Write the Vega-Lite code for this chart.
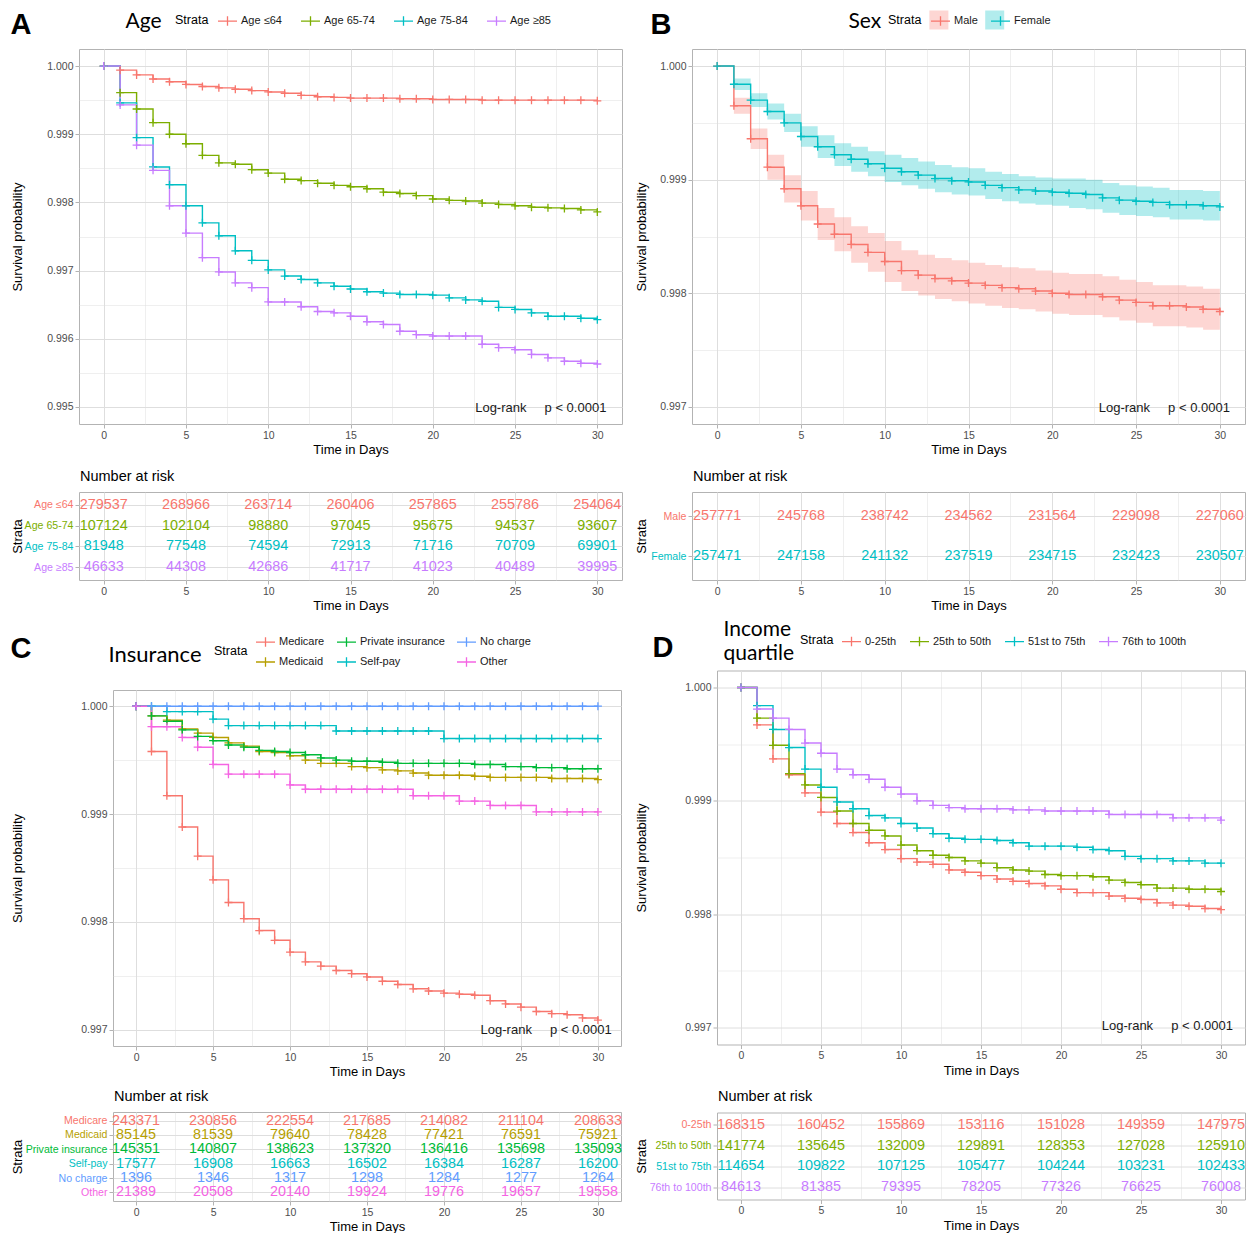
{
"$schema": "https://vega.github.io/schema/vega-lite/v6.json",
"background": "white",
"padding": {"left": 8, "top": 9, "right": 0, "bottom": 0},
"spacing": 10,
"resolve": {"scale": {"color": "independent", "fill": "independent"}, "legend": {"color": "independent", "fill": "independent"}},
"config": {
  "font": "Liberation Sans",
  "view": {"stroke": "#B3B3B3", "strokeWidth": 1},
  "axis": {"domain": false, "gridColor": "#DEDEDE", "tickColor": "#B3B3B3", "tickSize": 4, "tickWidth": 1, "labelColor": "#4D4D4D", "labelFontSize": 10.5, "labelFont": "Liberation Sans", "labelPadding": 2, "titleFont": "Liberation Sans", "titleFontWeight": "normal", "titleColor": "#000000", "titleFontSize": 13},
  "legend": {"labelFont": "Liberation Sans", "titleFont": "Liberation Sans", "padding": 0},
  "title": {"font": "Liberation Sans"}
},
"datasets": {
"ageKM": [
{"g":"Age ≤64","t":0,"s":1},{"g":"Age ≤64","t":1,"s":0.99994},{"g":"Age ≤64","t":2,"s":0.99987},{"g":"Age ≤64","t":3,"s":0.99981},{"g":"Age ≤64","t":4,"s":0.99977},{"g":"Age ≤64","t":5,"s":0.99973},{"g":"Age ≤64","t":6,"s":0.9997},{"g":"Age ≤64","t":7,"s":0.99968},{"g":"Age ≤64","t":8,"s":0.99966},{"g":"Age ≤64","t":9,"s":0.99964},{"g":"Age ≤64","t":10,"s":0.99962},{"g":"Age ≤64","t":11,"s":0.9996},{"g":"Age ≤64","t":12,"s":0.99957},{"g":"Age ≤64","t":13,"s":0.99955},{"g":"Age ≤64","t":14,"s":0.99954},{"g":"Age ≤64","t":15,"s":0.99953},{"g":"Age ≤64","t":16,"s":0.99953},{"g":"Age ≤64","t":17,"s":0.99953},{"g":"Age ≤64","t":18,"s":0.99952},{"g":"Age ≤64","t":19,"s":0.99952},{"g":"Age ≤64","t":20,"s":0.99951},{"g":"Age ≤64","t":21,"s":0.99951},{"g":"Age ≤64","t":22,"s":0.99951},{"g":"Age ≤64","t":23,"s":0.9995},{"g":"Age ≤64","t":24,"s":0.9995},{"g":"Age ≤64","t":25,"s":0.9995},{"g":"Age ≤64","t":26,"s":0.9995},{"g":"Age ≤64","t":27,"s":0.9995},{"g":"Age ≤64","t":28,"s":0.9995},{"g":"Age ≤64","t":29,"s":0.9995},{"g":"Age ≤64","t":30,"s":0.99949},
{"g":"Age 65-74","t":0,"s":1},{"g":"Age 65-74","t":1,"s":0.99961},{"g":"Age 65-74","t":2,"s":0.99937},{"g":"Age 65-74","t":3,"s":0.99917},{"g":"Age 65-74","t":4,"s":0.999},{"g":"Age 65-74","t":5,"s":0.99886},{"g":"Age 65-74","t":6,"s":0.99869},{"g":"Age 65-74","t":7,"s":0.99858},{"g":"Age 65-74","t":8,"s":0.99856},{"g":"Age 65-74","t":9,"s":0.99848},{"g":"Age 65-74","t":10,"s":0.99843},{"g":"Age 65-74","t":11,"s":0.99834},{"g":"Age 65-74","t":12,"s":0.99832},{"g":"Age 65-74","t":13,"s":0.99828},{"g":"Age 65-74","t":14,"s":0.99825},{"g":"Age 65-74","t":15,"s":0.99823},{"g":"Age 65-74","t":16,"s":0.9982},{"g":"Age 65-74","t":17,"s":0.99815},{"g":"Age 65-74","t":18,"s":0.99813},{"g":"Age 65-74","t":19,"s":0.9981},{"g":"Age 65-74","t":20,"s":0.99805},{"g":"Age 65-74","t":21,"s":0.99803},{"g":"Age 65-74","t":22,"s":0.99802},{"g":"Age 65-74","t":23,"s":0.99799},{"g":"Age 65-74","t":24,"s":0.99797},{"g":"Age 65-74","t":25,"s":0.99795},{"g":"Age 65-74","t":26,"s":0.99793},{"g":"Age 65-74","t":27,"s":0.99792},{"g":"Age 65-74","t":28,"s":0.99791},{"g":"Age 65-74","t":29,"s":0.99789},{"g":"Age 65-74","t":30,"s":0.99786},
{"g":"Age 75-84","t":0,"s":1},{"g":"Age 75-84","t":1,"s":0.99946},{"g":"Age 75-84","t":2,"s":0.99895},{"g":"Age 75-84","t":3,"s":0.99852},{"g":"Age 75-84","t":4,"s":0.99826},{"g":"Age 75-84","t":5,"s":0.99795},{"g":"Age 75-84","t":6,"s":0.9977},{"g":"Age 75-84","t":7,"s":0.99751},{"g":"Age 75-84","t":8,"s":0.99729},{"g":"Age 75-84","t":9,"s":0.99715},{"g":"Age 75-84","t":10,"s":0.99701},{"g":"Age 75-84","t":11,"s":0.99692},{"g":"Age 75-84","t":12,"s":0.99687},{"g":"Age 75-84","t":13,"s":0.99682},{"g":"Age 75-84","t":14,"s":0.99677},{"g":"Age 75-84","t":15,"s":0.99673},{"g":"Age 75-84","t":16,"s":0.99669},{"g":"Age 75-84","t":17,"s":0.99667},{"g":"Age 75-84","t":18,"s":0.99665},{"g":"Age 75-84","t":19,"s":0.99665},{"g":"Age 75-84","t":20,"s":0.99664},{"g":"Age 75-84","t":21,"s":0.9966},{"g":"Age 75-84","t":22,"s":0.99657},{"g":"Age 75-84","t":23,"s":0.99655},{"g":"Age 75-84","t":24,"s":0.99646},{"g":"Age 75-84","t":25,"s":0.99643},{"g":"Age 75-84","t":26,"s":0.99638},{"g":"Age 75-84","t":27,"s":0.99633},{"g":"Age 75-84","t":28,"s":0.99633},{"g":"Age 75-84","t":29,"s":0.9963},{"g":"Age 75-84","t":30,"s":0.99628},
{"g":"Age ≥85","t":0,"s":1},{"g":"Age ≥85","t":1,"s":0.99943},{"g":"Age ≥85","t":2,"s":0.99884},{"g":"Age ≥85","t":3,"s":0.99847},{"g":"Age ≥85","t":4,"s":0.99795},{"g":"Age ≥85","t":5,"s":0.99755},{"g":"Age ≥85","t":6,"s":0.99719},{"g":"Age ≥85","t":7,"s":0.99698},{"g":"Age ≥85","t":8,"s":0.99682},{"g":"Age ≥85","t":9,"s":0.99675},{"g":"Age ≥85","t":10,"s":0.99654},{"g":"Age ≥85","t":11,"s":0.99654},{"g":"Age ≥85","t":12,"s":0.99647},{"g":"Age ≥85","t":13,"s":0.9964},{"g":"Age ≥85","t":14,"s":0.99638},{"g":"Age ≥85","t":15,"s":0.99633},{"g":"Age ≥85","t":16,"s":0.99625},{"g":"Age ≥85","t":17,"s":0.99621},{"g":"Age ≥85","t":18,"s":0.99611},{"g":"Age ≥85","t":19,"s":0.99606},{"g":"Age ≥85","t":20,"s":0.99604},{"g":"Age ≥85","t":21,"s":0.99604},{"g":"Age ≥85","t":22,"s":0.99604},{"g":"Age ≥85","t":23,"s":0.99592},{"g":"Age ≥85","t":24,"s":0.99587},{"g":"Age ≥85","t":25,"s":0.99584},{"g":"Age ≥85","t":26,"s":0.99577},{"g":"Age ≥85","t":27,"s":0.99572},{"g":"Age ≥85","t":28,"s":0.99567},{"g":"Age ≥85","t":29,"s":0.99564},{"g":"Age ≥85","t":30,"s":0.99563}
],
"sexKM": [
{"g":"Male","t":0,"s":1,"lo":1,"hi":1},{"g":"Male","t":1,"s":0.99965,"lo":0.99958,"hi":0.99972},{"g":"Male","t":2,"s":0.99936,"lo":0.99927,"hi":0.99945},{"g":"Male","t":3,"s":0.99911,"lo":0.999,"hi":0.99922},{"g":"Male","t":4,"s":0.99892,"lo":0.9988,"hi":0.99904},{"g":"Male","t":5,"s":0.99877,"lo":0.99864,"hi":0.9989},{"g":"Male","t":6,"s":0.99861,"lo":0.99847,"hi":0.99875},{"g":"Male","t":7,"s":0.99852,"lo":0.99837,"hi":0.99867},{"g":"Male","t":8,"s":0.99843,"lo":0.99827,"hi":0.99859},{"g":"Male","t":9,"s":0.99836,"lo":0.99819,"hi":0.99853},{"g":"Male","t":10,"s":0.99828,"lo":0.9981,"hi":0.99846},{"g":"Male","t":11,"s":0.9982,"lo":0.99802,"hi":0.99838},{"g":"Male","t":12,"s":0.99816,"lo":0.99798,"hi":0.99834},{"g":"Male","t":13,"s":0.99813,"lo":0.99795,"hi":0.99831},{"g":"Male","t":14,"s":0.99811,"lo":0.99793,"hi":0.99829},{"g":"Male","t":15,"s":0.99809,"lo":0.99791,"hi":0.99827},{"g":"Male","t":16,"s":0.99807,"lo":0.99789,"hi":0.99825},{"g":"Male","t":17,"s":0.99805,"lo":0.99787,"hi":0.99823},{"g":"Male","t":18,"s":0.99804,"lo":0.99786,"hi":0.99822},{"g":"Male","t":19,"s":0.99802,"lo":0.99784,"hi":0.9982},{"g":"Male","t":20,"s":0.998,"lo":0.99782,"hi":0.99818},{"g":"Male","t":21,"s":0.99799,"lo":0.99781,"hi":0.99817},{"g":"Male","t":22,"s":0.99799,"lo":0.99781,"hi":0.99817},{"g":"Male","t":23,"s":0.99797,"lo":0.99779,"hi":0.99815},{"g":"Male","t":24,"s":0.99794,"lo":0.99776,"hi":0.99812},{"g":"Male","t":25,"s":0.99792,"lo":0.99774,"hi":0.9981},{"g":"Male","t":26,"s":0.99789,"lo":0.99771,"hi":0.99807},{"g":"Male","t":27,"s":0.99789,"lo":0.99771,"hi":0.99807},{"g":"Male","t":28,"s":0.99788,"lo":0.9977,"hi":0.99806},{"g":"Male","t":29,"s":0.99786,"lo":0.99768,"hi":0.99804},{"g":"Male","t":30,"s":0.99784,"lo":0.99766,"hi":0.99802},
{"g":"Female","t":0,"s":1,"lo":1,"hi":1},{"g":"Female","t":1,"s":0.99984,"lo":0.99979,"hi":0.99989},{"g":"Female","t":2,"s":0.9997,"lo":0.99964,"hi":0.99976},{"g":"Female","t":3,"s":0.9996,"lo":0.99953,"hi":0.99967},{"g":"Female","t":4,"s":0.9995,"lo":0.99942,"hi":0.99958},{"g":"Female","t":5,"s":0.99938,"lo":0.99929,"hi":0.99947},{"g":"Female","t":6,"s":0.99929,"lo":0.99919,"hi":0.99939},{"g":"Female","t":7,"s":0.99922,"lo":0.99912,"hi":0.99932},{"g":"Female","t":8,"s":0.99918,"lo":0.99907,"hi":0.99929},{"g":"Female","t":9,"s":0.99914,"lo":0.99903,"hi":0.99925},{"g":"Female","t":10,"s":0.9991,"lo":0.99898,"hi":0.99922},{"g":"Female","t":11,"s":0.99907,"lo":0.99895,"hi":0.99919},{"g":"Female","t":12,"s":0.99904,"lo":0.99892,"hi":0.99916},{"g":"Female","t":13,"s":0.99901,"lo":0.99889,"hi":0.99913},{"g":"Female","t":14,"s":0.99899,"lo":0.99887,"hi":0.99911},{"g":"Female","t":15,"s":0.99898,"lo":0.99886,"hi":0.9991},{"g":"Female","t":16,"s":0.99895,"lo":0.99883,"hi":0.99907},{"g":"Female","t":17,"s":0.99893,"lo":0.99881,"hi":0.99905},{"g":"Female","t":18,"s":0.99891,"lo":0.99879,"hi":0.99903},{"g":"Female","t":19,"s":0.9989,"lo":0.99878,"hi":0.99902},{"g":"Female","t":20,"s":0.99889,"lo":0.99877,"hi":0.99901},{"g":"Female","t":21,"s":0.99888,"lo":0.99875,"hi":0.99901},{"g":"Female","t":22,"s":0.99887,"lo":0.99874,"hi":0.999},{"g":"Female","t":23,"s":0.99884,"lo":0.99871,"hi":0.99897},{"g":"Female","t":24,"s":0.99882,"lo":0.99869,"hi":0.99895},{"g":"Female","t":25,"s":0.99881,"lo":0.99868,"hi":0.99894},{"g":"Female","t":26,"s":0.9988,"lo":0.99867,"hi":0.99893},{"g":"Female","t":27,"s":0.99878,"lo":0.99865,"hi":0.99891},{"g":"Female","t":28,"s":0.99878,"lo":0.99865,"hi":0.99891},{"g":"Female","t":29,"s":0.99877,"lo":0.99864,"hi":0.9989},{"g":"Female","t":30,"s":0.99876,"lo":0.99863,"hi":0.99889}
],
"insKM": [
{"g":"Medicare","t":0,"s":1},{"g":"Medicare","t":1,"s":0.99958},{"g":"Medicare","t":2,"s":0.99917},{"g":"Medicare","t":3,"s":0.99888},{"g":"Medicare","t":4,"s":0.99861},{"g":"Medicare","t":5,"s":0.99839},{"g":"Medicare","t":6,"s":0.99818},{"g":"Medicare","t":7,"s":0.99803},{"g":"Medicare","t":8,"s":0.99792},{"g":"Medicare","t":9,"s":0.99783},{"g":"Medicare","t":10,"s":0.99772},{"g":"Medicare","t":11,"s":0.99763},{"g":"Medicare","t":12,"s":0.99759},{"g":"Medicare","t":13,"s":0.99755},{"g":"Medicare","t":14,"s":0.99752},{"g":"Medicare","t":15,"s":0.99749},{"g":"Medicare","t":16,"s":0.99745},{"g":"Medicare","t":17,"s":0.99742},{"g":"Medicare","t":18,"s":0.99738},{"g":"Medicare","t":19,"s":0.99736},{"g":"Medicare","t":20,"s":0.99734},{"g":"Medicare","t":21,"s":0.99733},{"g":"Medicare","t":22,"s":0.99732},{"g":"Medicare","t":23,"s":0.99727},{"g":"Medicare","t":24,"s":0.99724},{"g":"Medicare","t":25,"s":0.99721},{"g":"Medicare","t":26,"s":0.99717},{"g":"Medicare","t":27,"s":0.99715},{"g":"Medicare","t":28,"s":0.99714},{"g":"Medicare","t":29,"s":0.99711},{"g":"Medicare","t":30,"s":0.99709},
{"g":"Medicaid","t":0,"s":1},{"g":"Medicaid","t":1,"s":0.99991},{"g":"Medicaid","t":2,"s":0.99987},{"g":"Medicaid","t":3,"s":0.99979},{"g":"Medicaid","t":4,"s":0.99975},{"g":"Medicaid","t":5,"s":0.99971},{"g":"Medicaid","t":6,"s":0.99966},{"g":"Medicaid","t":7,"s":0.99963},{"g":"Medicaid","t":8,"s":0.99958},{"g":"Medicaid","t":9,"s":0.99957},{"g":"Medicaid","t":10,"s":0.99954},{"g":"Medicaid","t":11,"s":0.9995},{"g":"Medicaid","t":12,"s":0.99947},{"g":"Medicaid","t":13,"s":0.99947},{"g":"Medicaid","t":14,"s":0.99944},{"g":"Medicaid","t":15,"s":0.99943},{"g":"Medicaid","t":16,"s":0.99941},{"g":"Medicaid","t":17,"s":0.9994},{"g":"Medicaid","t":18,"s":0.99938},{"g":"Medicaid","t":19,"s":0.99936},{"g":"Medicaid","t":20,"s":0.99936},{"g":"Medicaid","t":21,"s":0.99936},{"g":"Medicaid","t":22,"s":0.99935},{"g":"Medicaid","t":23,"s":0.99934},{"g":"Medicaid","t":24,"s":0.99934},{"g":"Medicaid","t":25,"s":0.99934},{"g":"Medicaid","t":26,"s":0.99934},{"g":"Medicaid","t":27,"s":0.99933},{"g":"Medicaid","t":28,"s":0.99933},{"g":"Medicaid","t":29,"s":0.99933},{"g":"Medicaid","t":30,"s":0.99932},
{"g":"Private insurance","t":0,"s":1},{"g":"Private insurance","t":1,"s":0.99991},{"g":"Private insurance","t":2,"s":0.99986},{"g":"Private insurance","t":3,"s":0.99978},{"g":"Private insurance","t":4,"s":0.99972},{"g":"Private insurance","t":5,"s":0.99968},{"g":"Private insurance","t":6,"s":0.99964},{"g":"Private insurance","t":7,"s":0.99962},{"g":"Private insurance","t":8,"s":0.99959},{"g":"Private insurance","t":9,"s":0.99958},{"g":"Private insurance","t":10,"s":0.99957},{"g":"Private insurance","t":11,"s":0.99955},{"g":"Private insurance","t":12,"s":0.99952},{"g":"Private insurance","t":13,"s":0.9995},{"g":"Private insurance","t":14,"s":0.99949},{"g":"Private insurance","t":15,"s":0.99949},{"g":"Private insurance","t":16,"s":0.99948},{"g":"Private insurance","t":17,"s":0.99947},{"g":"Private insurance","t":18,"s":0.99947},{"g":"Private insurance","t":19,"s":0.99947},{"g":"Private insurance","t":20,"s":0.99947},{"g":"Private insurance","t":21,"s":0.99947},{"g":"Private insurance","t":22,"s":0.99946},{"g":"Private insurance","t":23,"s":0.99946},{"g":"Private insurance","t":24,"s":0.99944},{"g":"Private insurance","t":25,"s":0.99944},{"g":"Private insurance","t":26,"s":0.99943},{"g":"Private insurance","t":27,"s":0.99943},{"g":"Private insurance","t":28,"s":0.99942},{"g":"Private insurance","t":29,"s":0.99942},{"g":"Private insurance","t":30,"s":0.99942},
{"g":"Self-pay","t":0,"s":1},{"g":"Self-pay","t":1,"s":1},{"g":"Self-pay","t":2,"s":0.99995},{"g":"Self-pay","t":3,"s":0.99995},{"g":"Self-pay","t":4,"s":0.99995},{"g":"Self-pay","t":5,"s":0.99988},{"g":"Self-pay","t":6,"s":0.99982},{"g":"Self-pay","t":7,"s":0.99982},{"g":"Self-pay","t":8,"s":0.99982},{"g":"Self-pay","t":9,"s":0.99982},{"g":"Self-pay","t":10,"s":0.99982},{"g":"Self-pay","t":11,"s":0.99982},{"g":"Self-pay","t":12,"s":0.99982},{"g":"Self-pay","t":13,"s":0.99977},{"g":"Self-pay","t":14,"s":0.99977},{"g":"Self-pay","t":15,"s":0.99977},{"g":"Self-pay","t":16,"s":0.99977},{"g":"Self-pay","t":17,"s":0.99977},{"g":"Self-pay","t":18,"s":0.99977},{"g":"Self-pay","t":19,"s":0.99977},{"g":"Self-pay","t":20,"s":0.9997},{"g":"Self-pay","t":21,"s":0.9997},{"g":"Self-pay","t":22,"s":0.9997},{"g":"Self-pay","t":23,"s":0.9997},{"g":"Self-pay","t":24,"s":0.9997},{"g":"Self-pay","t":25,"s":0.9997},{"g":"Self-pay","t":26,"s":0.9997},{"g":"Self-pay","t":27,"s":0.9997},{"g":"Self-pay","t":28,"s":0.9997},{"g":"Self-pay","t":29,"s":0.9997},{"g":"Self-pay","t":30,"s":0.9997},
{"g":"No charge","t":0,"s":1},{"g":"No charge","t":1,"s":1},{"g":"No charge","t":2,"s":1},{"g":"No charge","t":3,"s":1},{"g":"No charge","t":4,"s":1},{"g":"No charge","t":5,"s":1},{"g":"No charge","t":6,"s":1},{"g":"No charge","t":7,"s":1},{"g":"No charge","t":8,"s":1},{"g":"No charge","t":9,"s":1},{"g":"No charge","t":10,"s":1},{"g":"No charge","t":11,"s":1},{"g":"No charge","t":12,"s":1},{"g":"No charge","t":13,"s":1},{"g":"No charge","t":14,"s":1},{"g":"No charge","t":15,"s":1},{"g":"No charge","t":16,"s":1},{"g":"No charge","t":17,"s":1},{"g":"No charge","t":18,"s":1},{"g":"No charge","t":19,"s":1},{"g":"No charge","t":20,"s":1},{"g":"No charge","t":21,"s":1},{"g":"No charge","t":22,"s":1},{"g":"No charge","t":23,"s":1},{"g":"No charge","t":24,"s":1},{"g":"No charge","t":25,"s":1},{"g":"No charge","t":26,"s":1},{"g":"No charge","t":27,"s":1},{"g":"No charge","t":28,"s":1},{"g":"No charge","t":29,"s":1},{"g":"No charge","t":30,"s":1},
{"g":"Other","t":0,"s":1},{"g":"Other","t":1,"s":0.99981},{"g":"Other","t":2,"s":0.99981},{"g":"Other","t":3,"s":0.99971},{"g":"Other","t":4,"s":0.99962},{"g":"Other","t":5,"s":0.99946},{"g":"Other","t":6,"s":0.99937},{"g":"Other","t":7,"s":0.99937},{"g":"Other","t":8,"s":0.99937},{"g":"Other","t":9,"s":0.99937},{"g":"Other","t":10,"s":0.99927},{"g":"Other","t":11,"s":0.99923},{"g":"Other","t":12,"s":0.99923},{"g":"Other","t":13,"s":0.99923},{"g":"Other","t":14,"s":0.99923},{"g":"Other","t":15,"s":0.99923},{"g":"Other","t":16,"s":0.99923},{"g":"Other","t":17,"s":0.99923},{"g":"Other","t":18,"s":0.99917},{"g":"Other","t":19,"s":0.99917},{"g":"Other","t":20,"s":0.99917},{"g":"Other","t":21,"s":0.99912},{"g":"Other","t":22,"s":0.99912},{"g":"Other","t":23,"s":0.99908},{"g":"Other","t":24,"s":0.99908},{"g":"Other","t":25,"s":0.99908},{"g":"Other","t":26,"s":0.99902},{"g":"Other","t":27,"s":0.99902},{"g":"Other","t":28,"s":0.99902},{"g":"Other","t":29,"s":0.99902},{"g":"Other","t":30,"s":0.99902}
],
"incKM": [
{"g":"0-25th","t":0,"s":1},{"g":"0-25th","t":1,"s":0.99967},{"g":"0-25th","t":2,"s":0.99937},{"g":"0-25th","t":3,"s":0.99923},{"g":"0-25th","t":4,"s":0.99907},{"g":"0-25th","t":5,"s":0.9989},{"g":"0-25th","t":6,"s":0.9988},{"g":"0-25th","t":7,"s":0.99872},{"g":"0-25th","t":8,"s":0.99863},{"g":"0-25th","t":9,"s":0.99857},{"g":"0-25th","t":10,"s":0.99849},{"g":"0-25th","t":11,"s":0.99846},{"g":"0-25th","t":12,"s":0.99844},{"g":"0-25th","t":13,"s":0.99839},{"g":"0-25th","t":14,"s":0.99837},{"g":"0-25th","t":15,"s":0.99834},{"g":"0-25th","t":16,"s":0.99831},{"g":"0-25th","t":17,"s":0.99829},{"g":"0-25th","t":18,"s":0.99827},{"g":"0-25th","t":19,"s":0.99825},{"g":"0-25th","t":20,"s":0.99822},{"g":"0-25th","t":21,"s":0.99819},{"g":"0-25th","t":22,"s":0.99819},{"g":"0-25th","t":23,"s":0.99816},{"g":"0-25th","t":24,"s":0.99814},{"g":"0-25th","t":25,"s":0.99813},{"g":"0-25th","t":26,"s":0.9981},{"g":"0-25th","t":27,"s":0.99808},{"g":"0-25th","t":28,"s":0.99807},{"g":"0-25th","t":29,"s":0.99805},{"g":"0-25th","t":30,"s":0.99804},
{"g":"25th to 50th","t":0,"s":1},{"g":"25th to 50th","t":1,"s":0.99973},{"g":"25th to 50th","t":2,"s":0.99949},{"g":"25th to 50th","t":3,"s":0.99924},{"g":"25th to 50th","t":4,"s":0.99914},{"g":"25th to 50th","t":5,"s":0.99903},{"g":"25th to 50th","t":6,"s":0.99891},{"g":"25th to 50th","t":7,"s":0.9988},{"g":"25th to 50th","t":8,"s":0.99874},{"g":"25th to 50th","t":9,"s":0.99869},{"g":"25th to 50th","t":10,"s":0.99861},{"g":"25th to 50th","t":11,"s":0.99856},{"g":"25th to 50th","t":12,"s":0.99852},{"g":"25th to 50th","t":13,"s":0.9985},{"g":"25th to 50th","t":14,"s":0.99847},{"g":"25th to 50th","t":15,"s":0.99845},{"g":"25th to 50th","t":16,"s":0.99841},{"g":"25th to 50th","t":17,"s":0.99839},{"g":"25th to 50th","t":18,"s":0.99838},{"g":"25th to 50th","t":19,"s":0.99835},{"g":"25th to 50th","t":20,"s":0.99834},{"g":"25th to 50th","t":21,"s":0.99834},{"g":"25th to 50th","t":22,"s":0.99833},{"g":"25th to 50th","t":23,"s":0.9983},{"g":"25th to 50th","t":24,"s":0.99828},{"g":"25th to 50th","t":25,"s":0.99826},{"g":"25th to 50th","t":26,"s":0.99823},{"g":"25th to 50th","t":27,"s":0.99823},{"g":"25th to 50th","t":28,"s":0.99822},{"g":"25th to 50th","t":29,"s":0.99822},{"g":"25th to 50th","t":30,"s":0.9982},
{"g":"51st to 75th","t":0,"s":1},{"g":"51st to 75th","t":1,"s":0.99984},{"g":"51st to 75th","t":2,"s":0.99963},{"g":"51st to 75th","t":3,"s":0.99947},{"g":"51st to 75th","t":4,"s":0.99928},{"g":"51st to 75th","t":5,"s":0.99912},{"g":"51st to 75th","t":6,"s":0.99899},{"g":"51st to 75th","t":7,"s":0.99893},{"g":"51st to 75th","t":8,"s":0.99887},{"g":"51st to 75th","t":9,"s":0.99885},{"g":"51st to 75th","t":10,"s":0.9988},{"g":"51st to 75th","t":11,"s":0.99876},{"g":"51st to 75th","t":12,"s":0.99871},{"g":"51st to 75th","t":13,"s":0.99867},{"g":"51st to 75th","t":14,"s":0.99866},{"g":"51st to 75th","t":15,"s":0.99866},{"g":"51st to 75th","t":16,"s":0.99865},{"g":"51st to 75th","t":17,"s":0.99863},{"g":"51st to 75th","t":18,"s":0.9986},{"g":"51st to 75th","t":19,"s":0.9986},{"g":"51st to 75th","t":20,"s":0.9986},{"g":"51st to 75th","t":21,"s":0.99859},{"g":"51st to 75th","t":22,"s":0.99857},{"g":"51st to 75th","t":23,"s":0.99856},{"g":"51st to 75th","t":24,"s":0.99851},{"g":"51st to 75th","t":25,"s":0.99849},{"g":"51st to 75th","t":26,"s":0.99849},{"g":"51st to 75th","t":27,"s":0.99847},{"g":"51st to 75th","t":28,"s":0.99847},{"g":"51st to 75th","t":29,"s":0.99845},{"g":"51st to 75th","t":30,"s":0.99845},
{"g":"76th to 100th","t":0,"s":1},{"g":"76th to 100th","t":1,"s":0.99981},{"g":"76th to 100th","t":2,"s":0.99973},{"g":"76th to 100th","t":3,"s":0.99963},{"g":"76th to 100th","t":4,"s":0.99951},{"g":"76th to 100th","t":5,"s":0.99942},{"g":"76th to 100th","t":6,"s":0.99928},{"g":"76th to 100th","t":7,"s":0.99923},{"g":"76th to 100th","t":8,"s":0.99919},{"g":"76th to 100th","t":9,"s":0.99912},{"g":"76th to 100th","t":10,"s":0.99906},{"g":"76th to 100th","t":11,"s":0.999},{"g":"76th to 100th","t":12,"s":0.99896},{"g":"76th to 100th","t":13,"s":0.99894},{"g":"76th to 100th","t":14,"s":0.99893},{"g":"76th to 100th","t":15,"s":0.99893},{"g":"76th to 100th","t":16,"s":0.99893},{"g":"76th to 100th","t":17,"s":0.99892},{"g":"76th to 100th","t":18,"s":0.99892},{"g":"76th to 100th","t":19,"s":0.99891},{"g":"76th to 100th","t":20,"s":0.99891},{"g":"76th to 100th","t":21,"s":0.99891},{"g":"76th to 100th","t":22,"s":0.99891},{"g":"76th to 100th","t":23,"s":0.99888},{"g":"76th to 100th","t":24,"s":0.99888},{"g":"76th to 100th","t":25,"s":0.99888},{"g":"76th to 100th","t":26,"s":0.99888},{"g":"76th to 100th","t":27,"s":0.99885},{"g":"76th to 100th","t":28,"s":0.99885},{"g":"76th to 100th","t":29,"s":0.99885},{"g":"76th to 100th","t":30,"s":0.99883}
],
"ageRisk": [
{"g":"Age ≤64","t":0,"n":279537},{"g":"Age ≤64","t":5,"n":268966},{"g":"Age ≤64","t":10,"n":263714},{"g":"Age ≤64","t":15,"n":260406},{"g":"Age ≤64","t":20,"n":257865},{"g":"Age ≤64","t":25,"n":255786},{"g":"Age ≤64","t":30,"n":254064},
{"g":"Age 65-74","t":0,"n":107124},{"g":"Age 65-74","t":5,"n":102104},{"g":"Age 65-74","t":10,"n":98880},{"g":"Age 65-74","t":15,"n":97045},{"g":"Age 65-74","t":20,"n":95675},{"g":"Age 65-74","t":25,"n":94537},{"g":"Age 65-74","t":30,"n":93607},
{"g":"Age 75-84","t":0,"n":81948},{"g":"Age 75-84","t":5,"n":77548},{"g":"Age 75-84","t":10,"n":74594},{"g":"Age 75-84","t":15,"n":72913},{"g":"Age 75-84","t":20,"n":71716},{"g":"Age 75-84","t":25,"n":70709},{"g":"Age 75-84","t":30,"n":69901},
{"g":"Age ≥85","t":0,"n":46633},{"g":"Age ≥85","t":5,"n":44308},{"g":"Age ≥85","t":10,"n":42686},{"g":"Age ≥85","t":15,"n":41717},{"g":"Age ≥85","t":20,"n":41023},{"g":"Age ≥85","t":25,"n":40489},{"g":"Age ≥85","t":30,"n":39995}
],
"sexRisk": [
{"g":"Male","t":0,"n":257771},{"g":"Male","t":5,"n":245768},{"g":"Male","t":10,"n":238742},{"g":"Male","t":15,"n":234562},{"g":"Male","t":20,"n":231564},{"g":"Male","t":25,"n":229098},{"g":"Male","t":30,"n":227060},
{"g":"Female","t":0,"n":257471},{"g":"Female","t":5,"n":247158},{"g":"Female","t":10,"n":241132},{"g":"Female","t":15,"n":237519},{"g":"Female","t":20,"n":234715},{"g":"Female","t":25,"n":232423},{"g":"Female","t":30,"n":230507}
],
"insRisk": [
{"g":"Medicare","t":0,"n":243371},{"g":"Medicare","t":5,"n":230856},{"g":"Medicare","t":10,"n":222554},{"g":"Medicare","t":15,"n":217685},{"g":"Medicare","t":20,"n":214082},{"g":"Medicare","t":25,"n":211104},{"g":"Medicare","t":30,"n":208633},
{"g":"Medicaid","t":0,"n":85145},{"g":"Medicaid","t":5,"n":81539},{"g":"Medicaid","t":10,"n":79640},{"g":"Medicaid","t":15,"n":78428},{"g":"Medicaid","t":20,"n":77421},{"g":"Medicaid","t":25,"n":76591},{"g":"Medicaid","t":30,"n":75921},
{"g":"Private insurance","t":0,"n":145351},{"g":"Private insurance","t":5,"n":140807},{"g":"Private insurance","t":10,"n":138623},{"g":"Private insurance","t":15,"n":137320},{"g":"Private insurance","t":20,"n":136416},{"g":"Private insurance","t":25,"n":135698},{"g":"Private insurance","t":30,"n":135093},
{"g":"Self-pay","t":0,"n":17577},{"g":"Self-pay","t":5,"n":16908},{"g":"Self-pay","t":10,"n":16663},{"g":"Self-pay","t":15,"n":16502},{"g":"Self-pay","t":20,"n":16384},{"g":"Self-pay","t":25,"n":16287},{"g":"Self-pay","t":30,"n":16200},
{"g":"No charge","t":0,"n":1396},{"g":"No charge","t":5,"n":1346},{"g":"No charge","t":10,"n":1317},{"g":"No charge","t":15,"n":1298},{"g":"No charge","t":20,"n":1284},{"g":"No charge","t":25,"n":1277},{"g":"No charge","t":30,"n":1264},
{"g":"Other","t":0,"n":21389},{"g":"Other","t":5,"n":20508},{"g":"Other","t":10,"n":20140},{"g":"Other","t":15,"n":19924},{"g":"Other","t":20,"n":19776},{"g":"Other","t":25,"n":19657},{"g":"Other","t":30,"n":19558}
],
"incRisk": [
{"g":"0-25th","t":0,"n":168315},{"g":"0-25th","t":5,"n":160452},{"g":"0-25th","t":10,"n":155869},{"g":"0-25th","t":15,"n":153116},{"g":"0-25th","t":20,"n":151028},{"g":"0-25th","t":25,"n":149359},{"g":"0-25th","t":30,"n":147975},
{"g":"25th to 50th","t":0,"n":141774},{"g":"25th to 50th","t":5,"n":135645},{"g":"25th to 50th","t":10,"n":132009},{"g":"25th to 50th","t":15,"n":129891},{"g":"25th to 50th","t":20,"n":128353},{"g":"25th to 50th","t":25,"n":127028},{"g":"25th to 50th","t":30,"n":125910},
{"g":"51st to 75th","t":0,"n":114654},{"g":"51st to 75th","t":5,"n":109822},{"g":"51st to 75th","t":10,"n":107125},{"g":"51st to 75th","t":15,"n":105477},{"g":"51st to 75th","t":20,"n":104244},{"g":"51st to 75th","t":25,"n":103231},{"g":"51st to 75th","t":30,"n":102433},
{"g":"76th to 100th","t":0,"n":84613},{"g":"76th to 100th","t":5,"n":81385},{"g":"76th to 100th","t":10,"n":79395},{"g":"76th to 100th","t":15,"n":78205},{"g":"76th to 100th","t":20,"n":77326},{"g":"76th to 100th","t":25,"n":76625},{"g":"76th to 100th","t":30,"n":76008}
]
},
"hconcat": [
{"concat": [
 {"hconcat": [
  {"width": 1, "height": 1, "view": {"stroke": null}, "data": {"values": [{}]}, "mark": {"type": "point", "size": 0, "strokeWidth": 0, "opacity": 0}},
  {"vconcat": [
    {"width": 543, "height": 375, "data": {"name": "ageKM"},
     "resolve": {"axis": {"x": "independent", "y": "independent"}},
     "layer": [
      {"mark": {"type": "line", "interpolate": "step-after", "strokeWidth": 1.4},
       "encoding": {
        "x": {"field": "t", "type": "quantitative", "scale": {"domain": [-1.5, 31.5], "nice": false, "zero": false},
              "axis": {"values": [0,2.5,5,7.5,10,12.5,15,17.5,20,22.5,25,27.5,30], "format": "d", "labelExpr": "datum.value % 5 === 0 ? datum.label : ''", "labelOverlap": false, "labelFlush": false, "grid": true, "gridWidth": {"condition": {"test": "datum.value % 5 === 0", "value": 1}, "value": 0.5}, "tickOpacity": {"condition": {"test": "datum.value % 5 === 0", "value": 1}, "value": 0}, "title": "Time in Days", "titlePadding": 3}},
        "y": {"field": "s", "type": "quantitative", "scale": {"domain": [0.99475, 1.00025], "nice": false, "zero": false},
              "axis": {"values": [0.995,0.9955,0.996,0.9965,0.997,0.9975,0.998,0.9985,0.999,0.9995,1], "format": ".3f", "labelExpr": "abs(datum.value*1000-round(datum.value*1000)) < 0.01 ? datum.label : ''", "labelOverlap": false, "labelFlush": false, "grid": true, "gridWidth": {"condition": {"test": "abs(datum.value*1000-round(datum.value*1000)) < 0.01", "value": 1}, "value": 0.5}, "tickOpacity": {"condition": {"test": "abs(datum.value*1000-round(datum.value*1000)) < 0.01", "value": 1}, "value": 0}, "title": "Survival probability", "titleX": -62, "titleY": 187.5, "titleAngle": 270, "titleBaseline": "middle", "titleAlign": "center"}},
        "color": {"field": "g", "type": "nominal", "scale": {"domain": ["Age ≤64","Age 65-74","Age 75-84","Age ≥85"], "range": ["#F8766D","#7CAE00","#00BFC4","#C77CFF"]},
              "legend": {"orient": "none", "legendX": 96, "legendY": -38.5, "direction": "horizontal", "title": "Strata", "titleOrient": "left", "titleAnchor": "middle", "titleBaseline": "middle", "titleFontSize": 12.5, "titleFontWeight": "normal", "titleColor": "#000000", "titlePadding": 8, "labelFontSize": 11, "labelColor": "#1A1A1A", "labelOffset": 3, "columnPadding": 16, "symbolType": "M-1,0H1M0,-0.5V0.5", "symbolSize": 361, "symbolStrokeWidth": 1.3}}
       }},
      {"mark": {"type": "point", "shape": "M-1,0H1M0,-1V1", "filled": false, "size": 64, "strokeWidth": 1.3, "opacity": 1},
       "encoding": {
        "x": {"field": "t", "type": "quantitative", "axis": {"orient": "top", "title": "Age", "labels": false, "ticks": false, "grid": false, "domain": false, "titleX": 46, "titleY": -22, "titleAlign": "left", "titleBaseline": "alphabetic", "titleAngle": 0, "titleFont": "Lato", "titleFontSize": 21, "titleFontWeight": "normal", "titleColor": "#000000"}},
        "y": {"field": "s", "type": "quantitative", "axis": {"orient": "right", "title": "A", "labels": false, "ticks": false, "grid": false, "domain": false, "titleX": -612, "titleY": -16, "titleAlign": "left", "titleBaseline": "alphabetic", "titleAngle": 0, "titleFontSize": 29, "titleFontWeight": "bold", "titleColor": "#000000"}},
        "color": {"field": "g", "type": "nominal"}
       }},
      {"data": {"values": [{"label": "Log-rank\u00a0\u00a0\u00a0\u00a0\u00a0p < 0.0001"}]},
       "mark": {"type": "text", "fontSize": 13, "align": "right", "baseline": "middle", "color": "#1A1A1A"},
       "encoding": {"x": {"datum": 30.55, "type": "quantitative", "axis": null}, "y": {"datum": 0.99499, "type": "quantitative", "axis": null}, "text": {"field": "label"}}}
     ]},
    {"width": 543, "height": 88, "data": {"name": "ageRisk"},
     "title": {"text": "Number at risk", "anchor": "start", "frame": "group", "fontSize": 14.5, "fontWeight": "normal", "color": "#000000", "offset": 8, "dx": 1},
     "mark": {"type": "text", "fontSize": 14.4, "baseline": "middle"},
     "encoding": {
      "x": {"field": "t", "type": "quantitative", "scale": {"domain": [-1.5, 31.5], "nice": false, "zero": false},
            "axis": {"values": [0,2.5,5,7.5,10,12.5,15,17.5,20,22.5,25,27.5,30], "format": "d", "labelExpr": "datum.value % 5 === 0 ? datum.label : ''", "labelOverlap": false, "labelFlush": false, "grid": true, "gridWidth": {"condition": {"test": "datum.value % 5 === 0", "value": 1}, "value": 0.5}, "tickOpacity": {"condition": {"test": "datum.value % 5 === 0", "value": 1}, "value": 0}, "title": "Time in Days", "titlePadding": 3}},
      "y": {"field": "g", "type": "nominal", "scale": {"type": "point", "domain": ["Age ≤64","Age 65-74","Age 75-84","Age ≥85"], "padding": 0.6},
            "axis": {"title": "Strata", "titleX": -62, "titleY": 44, "titleAngle": 270, "titleBaseline": "middle", "titleAlign": "center", "labelFontSize": 10.6, "grid": true, "gridWidth": 1, "labelColor": {"condition": [{"test": "datum.value === 'Age ≤64'", "value": "#F8766D"}, {"test": "datum.value === 'Age 65-74'", "value": "#7CAE00"}, {"test": "datum.value === 'Age 75-84'", "value": "#00BFC4"}], "value": "#C77CFF"}}},
      "text": {"field": "n", "type": "nominal"},
      "color": {"field": "g", "type": "nominal", "scale": {"domain": ["Age ≤64","Age 65-74","Age 75-84","Age ≥85"], "range": ["#F8766D","#7CAE00","#00BFC4","#C77CFF"]}, "legend": null}
     }}
  ], "bounds": "flush", "spacing": 68, "resolve": {"scale": {"color": "independent"}, "legend": {"color": "independent"}}}
 ], "spacing": 0, "resolve": {"scale": {"color": "independent"}, "legend": {"color": "independent"}}},
 {"hconcat": [
  {"width": 1, "height": 1, "view": {"stroke": null}, "data": {"values": [{}]}, "mark": {"type": "point", "size": 0, "strokeWidth": 0, "opacity": 0}},
  {"vconcat": [
    {"width": 508, "height": 356, "data": {"name": "insKM"},
     "resolve": {"axis": {"x": "independent", "y": "independent"}},
     "layer": [
      {"mark": {"type": "line", "interpolate": "step-after", "strokeWidth": 1.4},
       "encoding": {
        "x": {"field": "t", "type": "quantitative", "scale": {"domain": [-1.5, 31.5], "nice": false, "zero": false},
              "axis": {"values": [0,2.5,5,7.5,10,12.5,15,17.5,20,22.5,25,27.5,30], "format": "d", "labelExpr": "datum.value % 5 === 0 ? datum.label : ''", "labelOverlap": false, "labelFlush": false, "grid": true, "gridWidth": {"condition": {"test": "datum.value % 5 === 0", "value": 1}, "value": 0.5}, "tickOpacity": {"condition": {"test": "datum.value % 5 === 0", "value": 1}, "value": 0}, "title": "Time in Days", "titlePadding": 3}},
        "y": {"field": "s", "type": "quantitative", "scale": {"domain": [0.99685, 1.00015], "nice": false, "zero": false},
              "axis": {"values": [0.997,0.9975,0.998,0.9985,0.999,0.9995,1], "format": ".3f", "labelExpr": "abs(datum.value*1000-round(datum.value*1000)) < 0.01 ? datum.label : ''", "labelOverlap": false, "labelFlush": false, "grid": true, "gridWidth": {"condition": {"test": "abs(datum.value*1000-round(datum.value*1000)) < 0.01", "value": 1}, "value": 0.5}, "tickOpacity": {"condition": {"test": "abs(datum.value*1000-round(datum.value*1000)) < 0.01", "value": 1}, "value": 0}, "title": "Survival probability", "titleX": -96, "titleY": 178, "titleAngle": 270, "titleBaseline": "middle", "titleAlign": "center"}},
        "color": {"field": "g", "type": "nominal", "scale": {"domain": ["Medicare","Private insurance","No charge","Medicaid","Self-pay","Other"], "range": ["#F8766D","#00BA38","#619CFF","#B79F00","#00BFC4","#F564E3"]},
              "legend": {"orient": "none", "legendX": 101, "legendY": -58.5, "direction": "horizontal", "columns": 3, "rowPadding": 2, "title": "Strata", "titleOrient": "left", "titleAnchor": "middle", "titleBaseline": "middle", "titleFontSize": 12.5, "titleFontWeight": "normal", "titleColor": "#000000", "titlePadding": 7, "labelFontSize": 11, "labelColor": "#1A1A1A", "labelOffset": 3, "columnPadding": 9, "symbolType": "M-1,0H1M0,-0.5V0.5", "symbolSize": 361, "symbolStrokeWidth": 1.3}}
       }},
      {"mark": {"type": "point", "shape": "M-1,0H1M0,-1V1", "filled": false, "size": 64, "strokeWidth": 1.3, "opacity": 1},
       "encoding": {
        "x": {"field": "t", "type": "quantitative", "axis": {"orient": "top", "title": "Insurance", "labels": false, "ticks": false, "grid": false, "domain": false, "titleX": -5, "titleY": -29, "titleAlign": "left", "titleBaseline": "alphabetic", "titleAngle": 0, "titleFont": "Lato", "titleFontSize": 22, "titleFontWeight": "normal", "titleColor": "#000000"}},
        "y": {"field": "s", "type": "quantitative", "axis": {"orient": "right", "title": "C", "labels": false, "ticks": false, "grid": false, "domain": false, "titleX": -611, "titleY": -33, "titleAlign": "left", "titleBaseline": "alphabetic", "titleAngle": 0, "titleFontSize": 29, "titleFontWeight": "bold", "titleColor": "#000000"}},
        "color": {"field": "g", "type": "nominal"}
       }},
      {"data": {"values": [{"label": "Log-rank\u00a0\u00a0\u00a0\u00a0\u00a0p < 0.0001"}]},
       "mark": {"type": "text", "fontSize": 13, "align": "right", "baseline": "middle", "color": "#1A1A1A"},
       "encoding": {"x": {"datum": 30.9, "type": "quantitative", "axis": null}, "y": {"datum": 0.997, "type": "quantitative", "axis": null}, "text": {"field": "label"}}}
     ]},
    {"width": 508, "height": 89, "data": {"name": "insRisk"},
     "title": {"text": "Number at risk", "anchor": "start", "frame": "group", "fontSize": 14.5, "fontWeight": "normal", "color": "#000000", "offset": 8, "dx": 1},
     "mark": {"type": "text", "fontSize": 14.4, "baseline": "middle"},
     "encoding": {
      "x": {"field": "t", "type": "quantitative", "scale": {"domain": [-1.5, 31.5], "nice": false, "zero": false},
            "axis": {"values": [0,2.5,5,7.5,10,12.5,15,17.5,20,22.5,25,27.5,30], "format": "d", "labelExpr": "datum.value % 5 === 0 ? datum.label : ''", "labelOverlap": false, "labelFlush": false, "grid": true, "gridWidth": {"condition": {"test": "datum.value % 5 === 0", "value": 1}, "value": 0.5}, "tickOpacity": {"condition": {"test": "datum.value % 5 === 0", "value": 1}, "value": 0}, "title": "Time in Days", "titlePadding": 3}},
      "y": {"field": "g", "type": "nominal", "scale": {"type": "point", "domain": ["Medicare","Medicaid","Private insurance","Self-pay","No charge","Other"], "padding": 0.6},
            "axis": {"title": "Strata", "titleX": -96, "titleY": 44.5, "titleAngle": 270, "titleBaseline": "middle", "titleAlign": "center", "labelFontSize": 10.6, "grid": true, "gridWidth": 1, "labelColor": {"condition": [{"test": "datum.value === 'Medicare'", "value": "#F8766D"}, {"test": "datum.value === 'Medicaid'", "value": "#B79F00"}, {"test": "datum.value === 'Private insurance'", "value": "#00BA38"}, {"test": "datum.value === 'Self-pay'", "value": "#00BFC4"}, {"test": "datum.value === 'No charge'", "value": "#619CFF"}], "value": "#F564E3"}}},
      "text": {"field": "n", "type": "nominal"},
      "color": {"field": "g", "type": "nominal", "scale": {"domain": ["Medicare","Medicaid","Private insurance","Self-pay","No charge","Other"], "range": ["#F8766D","#B79F00","#00BA38","#00BFC4","#619CFF","#F564E3"]}, "legend": null}
     }}
  ], "bounds": "flush", "spacing": 66, "resolve": {"scale": {"color": "independent"}, "legend": {"color": "independent"}}}
 ], "spacing": 0, "resolve": {"scale": {"color": "independent"}, "legend": {"color": "independent"}}}
], "columns": 1, "align": "none", "spacing": 18, "resolve": {"scale": {"color": "independent", "fill": "independent"}, "legend": {"color": "independent", "fill": "independent"}}},
{"concat": [
 {"hconcat": [
  {"width": 1, "height": 1, "view": {"stroke": null}, "data": {"values": [{}]}, "mark": {"type": "point", "size": 0, "strokeWidth": 0, "opacity": 0}},
  {"vconcat": [
    {"width": 553, "height": 375, "data": {"name": "sexKM"},
     "resolve": {"axis": {"x": "independent", "y": "independent"}},
     "layer": [
      {"mark": {"type": "area", "interpolate": "step-after", "fillOpacity": 0.3},
       "encoding": {
        "x": {"field": "t", "type": "quantitative", "scale": {"domain": [-1.5, 31.5], "nice": false, "zero": false}, "axis": null},
        "y": {"field": "lo", "type": "quantitative", "scale": {"domain": [0.99685, 1.00015], "nice": false, "zero": false}, "axis": null},
        "y2": {"field": "hi"},
        "fill": {"field": "g", "type": "nominal", "sort": "descending", "scale": {"range": ["#F8766D","#00BFC4"]},
              "legend": {"orient": "none", "legendX": 237.4, "legendY": -38.5, "direction": "horizontal", "title": null, "labelExpr": "''", "labelFontSize": 11, "labelOffset": 3, "columnPadding": 33.8, "symbolType": "square", "symbolSize": 361, "symbolOpacity": 0.3, "symbolStrokeWidth": 0}}
       }},
      {"mark": {"type": "line", "interpolate": "step-after", "strokeWidth": 1.4},
       "encoding": {
        "x": {"field": "t", "type": "quantitative",
              "axis": {"values": [0,2.5,5,7.5,10,12.5,15,17.5,20,22.5,25,27.5,30], "format": "d", "labelExpr": "datum.value % 5 === 0 ? datum.label : ''", "labelOverlap": false, "labelFlush": false, "grid": true, "gridWidth": {"condition": {"test": "datum.value % 5 === 0", "value": 1}, "value": 0.5}, "tickOpacity": {"condition": {"test": "datum.value % 5 === 0", "value": 1}, "value": 0}, "title": "Time in Days", "titlePadding": 3}},
        "y": {"field": "s", "type": "quantitative",
              "axis": {"values": [0.997,0.9975,0.998,0.9985,0.999,0.9995,1], "format": ".3f", "labelExpr": "abs(datum.value*1000-round(datum.value*1000)) < 0.01 ? datum.label : ''", "labelOverlap": false, "labelFlush": false, "grid": true, "gridWidth": {"condition": {"test": "abs(datum.value*1000-round(datum.value*1000)) < 0.01", "value": 1}, "value": 0.5}, "tickOpacity": {"condition": {"test": "abs(datum.value*1000-round(datum.value*1000)) < 0.01", "value": 1}, "value": 0}, "title": "Survival probability", "titleX": -51, "titleY": 187.5, "titleAngle": 270, "titleBaseline": "middle", "titleAlign": "center"}},
        "color": {"field": "g", "type": "nominal", "scale": {"domain": ["Male","Female"], "range": ["#F8766D","#00BFC4"]},
              "legend": {"orient": "none", "legendX": 196, "legendY": -38.5, "direction": "horizontal", "title": "Strata", "titleOrient": "left", "titleAnchor": "middle", "titleBaseline": "middle", "titleFontSize": 12.5, "titleFontWeight": "normal", "titleColor": "#000000", "titlePadding": 8, "labelFontSize": 11, "labelColor": "#1A1A1A", "labelOffset": 3, "columnPadding": 10, "symbolType": "M-1,0H1M0,-0.5V0.5", "symbolSize": 361, "symbolStrokeWidth": 1.3}}
       }},
      {"mark": {"type": "point", "shape": "M-1,0H1M0,-1V1", "filled": false, "size": 64, "strokeWidth": 1.3, "opacity": 1},
       "encoding": {
        "x": {"field": "t", "type": "quantitative", "axis": {"orient": "top", "title": "Sex", "labels": false, "ticks": false, "grid": false, "domain": false, "titleX": 156, "titleY": -22, "titleAlign": "left", "titleBaseline": "alphabetic", "titleAngle": 0, "titleFont": "Lato", "titleFontSize": 21, "titleFontWeight": "normal", "titleColor": "#000000"}},
        "y": {"field": "s", "type": "quantitative", "axis": {"orient": "right", "title": "B", "labels": false, "ticks": false, "grid": false, "domain": false, "titleX": -595, "titleY": -16, "titleAlign": "left", "titleBaseline": "alphabetic", "titleAngle": 0, "titleFontSize": 29, "titleFontWeight": "bold", "titleColor": "#000000"}},
        "color": {"field": "g", "type": "nominal"}
       }},
      {"data": {"values": [{"label": "Log-rank\u00a0\u00a0\u00a0\u00a0\u00a0p < 0.0001"}]},
       "mark": {"type": "text", "fontSize": 13, "align": "right", "baseline": "middle", "color": "#1A1A1A"},
       "encoding": {"x": {"datum": 30.6, "type": "quantitative", "axis": null}, "y": {"datum": 0.99699, "type": "quantitative", "axis": null}, "text": {"field": "label"}}}
     ]},
    {"width": 553, "height": 88, "data": {"name": "sexRisk"},
     "title": {"text": "Number at risk", "anchor": "start", "frame": "group", "fontSize": 14.5, "fontWeight": "normal", "color": "#000000", "offset": 8, "dx": 1},
     "mark": {"type": "text", "fontSize": 14.4, "baseline": "middle"},
     "encoding": {
      "x": {"field": "t", "type": "quantitative", "scale": {"domain": [-1.5, 31.5], "nice": false, "zero": false},
            "axis": {"values": [0,2.5,5,7.5,10,12.5,15,17.5,20,22.5,25,27.5,30], "format": "d", "labelExpr": "datum.value % 5 === 0 ? datum.label : ''", "labelOverlap": false, "labelFlush": false, "grid": true, "gridWidth": {"condition": {"test": "datum.value % 5 === 0", "value": 1}, "value": 0.5}, "tickOpacity": {"condition": {"test": "datum.value % 5 === 0", "value": 1}, "value": 0}, "title": "Time in Days", "titlePadding": 3}},
      "y": {"field": "g", "type": "nominal", "scale": {"type": "point", "domain": ["Male","Female"], "padding": 0.6},
            "axis": {"title": "Strata", "titleX": -51, "titleY": 44, "titleAngle": 270, "titleBaseline": "middle", "titleAlign": "center", "labelFontSize": 10.6, "grid": true, "gridWidth": 1, "labelColor": {"condition": [{"test": "datum.value === 'Male'", "value": "#F8766D"}], "value": "#00BFC4"}}},
      "text": {"field": "n", "type": "nominal"},
      "color": {"field": "g", "type": "nominal", "scale": {"domain": ["Male","Female"], "range": ["#F8766D","#00BFC4"]}, "legend": null}
     }}
  ], "bounds": "flush", "spacing": 68, "resolve": {"scale": {"color": "independent", "fill": "independent"}, "legend": {"color": "independent", "fill": "independent"}}}
 ], "spacing": 0, "resolve": {"scale": {"color": "independent", "fill": "independent"}, "legend": {"color": "independent", "fill": "independent"}}},
 {"hconcat": [
  {"width": 1, "height": 1, "view": {"stroke": null}, "data": {"values": [{}]}, "mark": {"type": "point", "size": 0, "strokeWidth": 0, "opacity": 0}},
  {"vconcat": [
    {"width": 528, "height": 374, "data": {"name": "incKM"},
     "resolve": {"axis": {"x": "independent", "y": "independent"}},
     "layer": [
      {"mark": {"type": "line", "interpolate": "step-after", "strokeWidth": 1.4},
       "encoding": {
        "x": {"field": "t", "type": "quantitative", "scale": {"domain": [-1.5, 31.5], "nice": false, "zero": false},
              "axis": {"values": [0,2.5,5,7.5,10,12.5,15,17.5,20,22.5,25,27.5,30], "format": "d", "labelExpr": "datum.value % 5 === 0 ? datum.label : ''", "labelOverlap": false, "labelFlush": false, "grid": true, "gridWidth": {"condition": {"test": "datum.value % 5 === 0", "value": 1}, "value": 0.5}, "tickOpacity": {"condition": {"test": "datum.value % 5 === 0", "value": 1}, "value": 0}, "title": "Time in Days", "titlePadding": 3}},
        "y": {"field": "s", "type": "quantitative", "scale": {"domain": [0.99685, 1.00015], "nice": false, "zero": false},
              "axis": {"values": [0.997,0.9975,0.998,0.9985,0.999,0.9995,1], "format": ".3f", "labelExpr": "abs(datum.value*1000-round(datum.value*1000)) < 0.01 ? datum.label : ''", "labelOverlap": false, "labelFlush": false, "grid": true, "gridWidth": {"condition": {"test": "abs(datum.value*1000-round(datum.value*1000)) < 0.01", "value": 1}, "value": 0.5}, "tickOpacity": {"condition": {"test": "abs(datum.value*1000-round(datum.value*1000)) < 0.01", "value": 1}, "value": 0}, "title": "Survival probability", "titleX": -76, "titleY": 187, "titleAngle": 270, "titleBaseline": "middle", "titleAlign": "center"}},
        "color": {"field": "g", "type": "nominal", "scale": {"domain": ["0-25th","25th to 50th","51st to 75th","76th to 100th"], "range": ["#F8766D","#7CAE00","#00BFC4","#C77CFF"]},
              "legend": {"orient": "none", "legendX": 83, "legendY": -39.5, "direction": "horizontal", "title": "Strata", "titleOrient": "left", "titleAnchor": "middle", "titleBaseline": "middle", "titleFontSize": 12.5, "titleFontWeight": "normal", "titleColor": "#000000", "titlePadding": 7, "labelFontSize": 11, "labelColor": "#1A1A1A", "labelOffset": 3, "columnPadding": 10, "symbolType": "M-1,0H1M0,-0.5V0.5", "symbolSize": 361, "symbolStrokeWidth": 1.3}}
       }},
      {"mark": {"type": "point", "shape": "M-1,0H1M0,-1V1", "filled": false, "size": 64, "strokeWidth": 1.3, "opacity": 1},
       "encoding": {
        "x": {"field": "t", "type": "quantitative", "axis": {"orient": "top", "title": ["Income", "quartile"], "labels": false, "ticks": false, "grid": false, "domain": false, "titleX": 6, "titleY": -35, "titleAlign": "left", "titleBaseline": "alphabetic", "titleAngle": 0, "titleFont": "Lato", "titleFontSize": 21, "titleLineHeight": 24, "titleFontWeight": "normal", "titleColor": "#000000"}},
        "y": {"field": "s", "type": "quantitative", "axis": {"orient": "right", "title": "D", "labels": false, "ticks": false, "grid": false, "domain": false, "titleX": -593, "titleY": -14, "titleAlign": "left", "titleBaseline": "alphabetic", "titleAngle": 0, "titleFontSize": 29, "titleFontWeight": "bold", "titleColor": "#000000"}},
        "color": {"field": "g", "type": "nominal"}
       }},
      {"data": {"values": [{"label": "Log-rank\u00a0\u00a0\u00a0\u00a0\u00a0p < 0.0001"}]},
       "mark": {"type": "text", "fontSize": 13, "align": "right", "baseline": "middle", "color": "#1A1A1A"},
       "encoding": {"x": {"datum": 30.75, "type": "quantitative", "axis": null}, "y": {"datum": 0.99701, "type": "quantitative", "axis": null}, "text": {"field": "label"}}}
     ]},
    {"width": 528, "height": 87, "data": {"name": "incRisk"},
     "title": {"text": "Number at risk", "anchor": "start", "frame": "group", "fontSize": 14.5, "fontWeight": "normal", "color": "#000000", "offset": 8, "dx": 1},
     "mark": {"type": "text", "fontSize": 14.4, "baseline": "middle"},
     "encoding": {
      "x": {"field": "t", "type": "quantitative", "scale": {"domain": [-1.5, 31.5], "nice": false, "zero": false},
            "axis": {"values": [0,2.5,5,7.5,10,12.5,15,17.5,20,22.5,25,27.5,30], "format": "d", "labelExpr": "datum.value % 5 === 0 ? datum.label : ''", "labelOverlap": false, "labelFlush": false, "grid": true, "gridWidth": {"condition": {"test": "datum.value % 5 === 0", "value": 1}, "value": 0.5}, "tickOpacity": {"condition": {"test": "datum.value % 5 === 0", "value": 1}, "value": 0}, "title": "Time in Days", "titlePadding": 3}},
      "y": {"field": "g", "type": "nominal", "scale": {"type": "point", "domain": ["0-25th","25th to 50th","51st to 75th","76th to 100th"], "padding": 0.6},
            "axis": {"title": "Strata", "titleX": -76, "titleY": 43.5, "titleAngle": 270, "titleBaseline": "middle", "titleAlign": "center", "labelFontSize": 10.6, "grid": true, "gridWidth": 1, "labelColor": {"condition": [{"test": "datum.value === '0-25th'", "value": "#F8766D"}, {"test": "datum.value === '25th to 50th'", "value": "#7CAE00"}, {"test": "datum.value === '51st to 75th'", "value": "#00BFC4"}], "value": "#C77CFF"}}},
      "text": {"field": "n", "type": "nominal"},
      "color": {"field": "g", "type": "nominal", "scale": {"domain": ["0-25th","25th to 50th","51st to 75th","76th to 100th"], "range": ["#F8766D","#7CAE00","#00BFC4","#C77CFF"]}, "legend": null}
     }}
  ], "bounds": "flush", "spacing": 68, "resolve": {"scale": {"color": "independent"}, "legend": {"color": "independent"}}}
 ], "spacing": 0, "resolve": {"scale": {"color": "independent"}, "legend": {"color": "independent"}}}
], "columns": 1, "align": "none", "spacing": 4.5, "resolve": {"scale": {"color": "independent", "fill": "independent"}, "legend": {"color": "independent", "fill": "independent"}}}
]
}
